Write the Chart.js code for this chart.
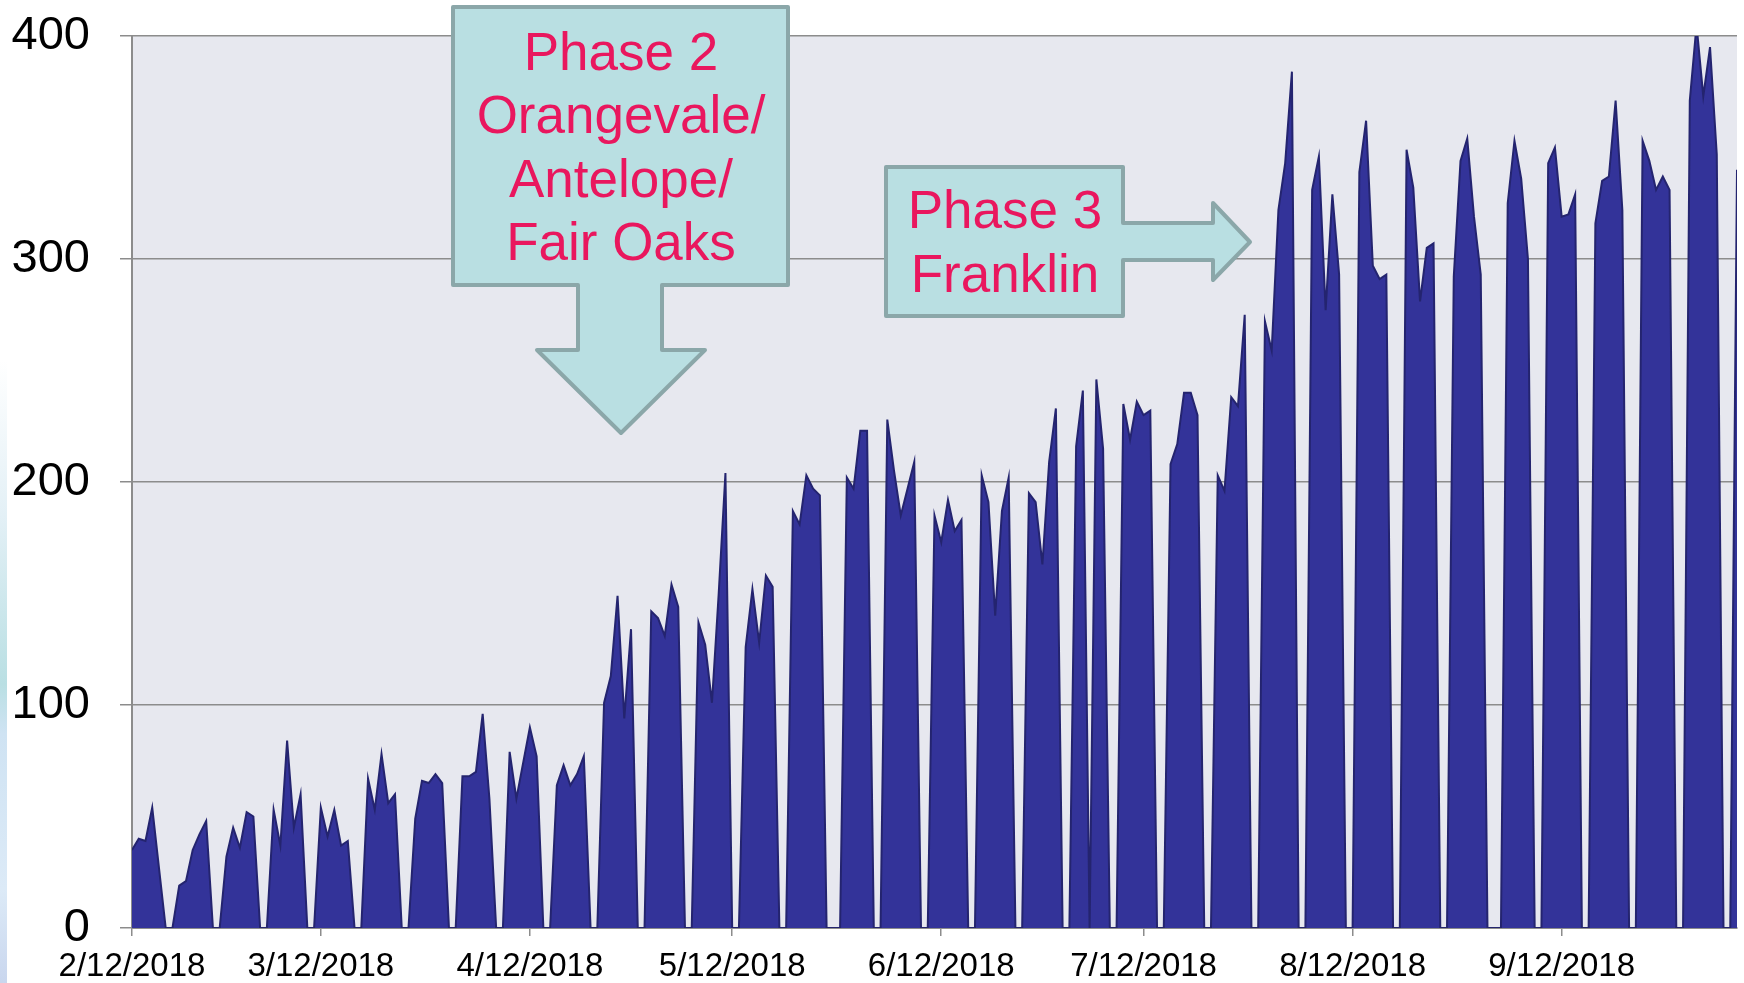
<!DOCTYPE html>
<html>
<head>
<meta charset="utf-8">
<title>Daily count, Feb - Oct 2018</title>
<script src="https://cdn.jsdelivr.net/npm/chart.js@4.4.1/dist/chart.umd.min.js"></script>
<style>
    html, body { margin: 0; padding: 0; background: #fff; }
    #wrap { position: relative; width: 1744px; height: 983px; overflow: hidden; }
    #edge {
        position: absolute; left: 0; top: 360px; width: 7px; height: 623px;
        background: linear-gradient(180deg, rgba(220,235,245,0) 0%, #e3f0f6 25%, #b9dfe3 52%, #cfe3f3 60%, #dceaf7 85%, #c9d6ee 100%);
    }
    #chart { position: absolute; left: 0; top: 0; }
</style>
</head>
<body>
<div id="wrap">
    <div id="edge"></div>
    <canvas id="chart" width="1744" height="983"></canvas>
</div>
<script>
// ---------- Data ----------
const startDate = "2/12/2018";
const tickLabels = ["2/12/2018", "3/12/2018", "4/12/2018", "5/12/2018", "6/12/2018", "7/12/2018", "8/12/2018", "9/12/2018"];
const yTicks = [0, 100, 200, 300, 400];

// one value per day, each list runs from the 12th to the 11th of the next month
const febVals = [35, 40, 39, 54, 27, 0, 0, 19, 21, 35, 42, 48, 0, 0, 32, 45, 36, 52, 50, 0, 0, 53, 37, 84, 45, 60, 0, 0];
const marVals = [54, 41, 53, 37, 39, 0, 0, 67, 53, 78, 56, 60, 0, 0, 49, 66, 65, 69, 65, 0, 0, 68, 68, 70, 96, 58, 0, 0, 79, 58, 74];
const aprVals = [90, 77, 0, 0, 64, 73, 64, 69, 77, 0, 0, 101, 113, 149, 94, 134, 0, 0, 142, 139, 131, 154, 144, 0, 0, 137, 127, 101, 150, 204];
const mayVals = [0, 0, 126, 152, 128, 158, 153, 0, 0, 187, 181, 203, 197, 194, 0, 0, 0, 202, 197, 223, 223, 0, 0, 228, 205, 185, 197, 209, 0, 0, 185];
const junVals = [173, 192, 178, 183, 0, 0, 203, 191, 140, 187, 202, 0, 0, 195, 191, 163, 209, 233, 0, 0, 216, 241, 0, 246, 215, 0, 0, 235, 219, 236];
const julVals = [230, 232, 0, 0, 208, 217, 240, 240, 230, 0, 0, 203, 196, 238, 234, 275, 0, 0, 272, 259, 322, 343, 384, 0, 0, 331, 346, 277, 329, 293, 0];
const augVals = [0, 339, 362, 297, 291, 293, 0, 0, 349, 332, 281, 305, 307, 0, 0, 292, 344, 354, 319, 293, 0, 0, 0, 325, 353, 336, 300, 0, 0, 343, 350];
const sepVals = [319, 320, 329, 0, 0, 316, 335, 337, 371, 322, 0, 0, 353, 344, 331, 337, 331, 0, 0, 371, 405, 373, 395, 347, 0, 0, 340];

const values = [].concat(febVals, marVals, aprVals, mayVals, junVals, julVals, augVals, sepVals);

function toDate(label) {
    const [m, d, y] = label.split("/").map(Number);
    return new Date(y, m - 1, d);
}

function dayIndex(label) {
    return Math.round((toDate(label) - toDate(startDate)) / 86400000);
}

const tickDays = tickLabels.map(dayIndex);
const points = values.map((v, i) => ({ x: i, y: v }));

// ---------- Plugins ----------
const FONT = "'Liberation Sans', Arial, sans-serif";

const plotBg = {
    id: "plotBg",
    beforeDraw(chart) {
        const { ctx, chartArea: a } = chart;
        ctx.save();
        ctx.fillStyle = "#e7e8ef";
        ctx.fillRect(a.left, a.top, a.right - a.left, a.bottom - a.top);
        ctx.restore();
    }
};

function drawCallout(ctx, shape, lines, cx, baselines) {
    ctx.save();
    ctx.beginPath();
    shape.forEach(([x, y], i) => (i === 0 ? ctx.moveTo(x, y) : ctx.lineTo(x, y)));
    ctx.closePath();
    ctx.fillStyle = "#b9dfe2";
    ctx.fill();
    ctx.lineWidth = 4;
    ctx.lineJoin = "round";
    ctx.strokeStyle = "#8ba7a9";
    ctx.stroke();

    ctx.fillStyle = "#e9175e";
    ctx.font = "53px " + FONT;
    ctx.textAlign = "center";
    ctx.textBaseline = "alphabetic";
    lines.forEach((t, i) => ctx.fillText(t, cx, baselines[i]));
    ctx.restore();
}

const callouts = {
    id: "callouts",
    afterDraw(chart) {
        const ctx = chart.ctx;
        // Phase 2 box with arrow pointing down
        drawCallout(ctx,
            [[453, 7], [788, 7], [788, 285], [662, 285], [662, 350], [705, 350], [621, 433],
             [537, 350], [578, 350], [578, 285], [453, 285]],
            ["Phase 2", "Orangevale/", "Antelope/", "Fair Oaks"], 621, [70, 133, 197, 260]);
        // Phase 3 box with arrow pointing right
        drawCallout(ctx,
            [[886, 167], [1123, 167], [1123, 223], [1213, 223], [1213, 203], [1250, 242],
             [1213, 280], [1213, 260], [1123, 260], [1123, 316], [886, 316]],
            ["Phase 3", "Franklin"], 1005, [228, 292]);
    }
};

// ---------- Chart ----------
const ctx = document.getElementById("chart");
new Chart(ctx, {
    type: "line",
    data: {
        datasets: [{
            data: points,
            fill: "origin",
            backgroundColor: "#333399",
            borderColor: "#24246f",
            borderWidth: 2,
            pointRadius: 0,
            tension: 0
        }]
    },
    options: {
        responsive: false,
        animation: false,
        devicePixelRatio: 1,
        layout: { padding: { top: 36, right: 7, left: 0, bottom: 0 } },
        plugins: {
            legend: { display: false },
            tooltip: { enabled: false }
        },
        scales: {
            x: {
                type: "linear",
                min: 0,
                max: values.length - 1,
                afterBuildTicks: (scale) => { scale.ticks = tickDays.map(v => ({ value: v })); },
                afterFit: (scale) => { scale.height = 55; },
                ticks: {
                    autoSkip: false,
                    maxRotation: 0,
                    padding: 11,
                    color: "#000",
                    font: { family: FONT, size: 33 },
                    callback: (v) => tickLabels[tickDays.indexOf(v)] || ""
                },
                grid: { drawOnChartArea: false, drawTicks: true, tickLength: 8, color: "#8c8c8c", lineWidth: 1.5 },
                border: { display: true, color: "#8c8c8c", width: 2 }
            },
            y: {
                min: 0,
                max: 400,
                afterBuildTicks: (scale) => { scale.ticks = yTicks.map(v => ({ value: v })); },
                afterFit: (scale) => {
                    scale.width = 132;
                    // the big label padding should not push the plot down
                    scale.paddingTop = 0;
                    scale.paddingBottom = 0;
                },
                ticks: {
                    padding: 30,
                    color: "#000",
                    font: { family: FONT, size: 47 }
                },
                grid: { color: "#8c8c8c", lineWidth: 1.5, tickLength: 12 },
                border: { display: true, color: "#8c8c8c", width: 2 }
            }
        }
    },
    plugins: [plotBg, callouts]
});
</script>
</body>
</html>
